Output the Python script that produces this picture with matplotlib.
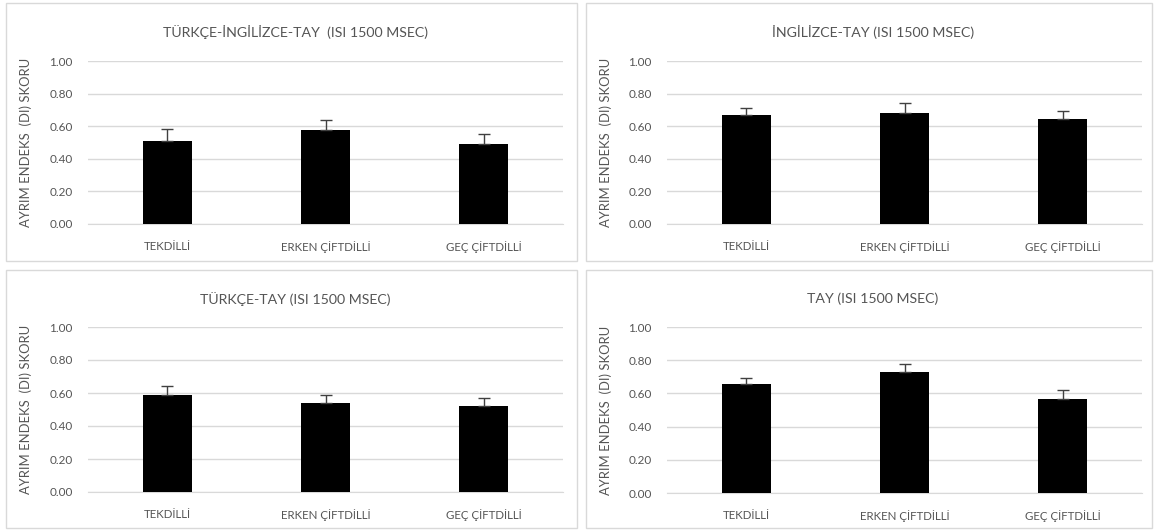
import numpy as np
import matplotlib
matplotlib.use("Agg")
import matplotlib.pyplot as plt
from matplotlib.patches import Rectangle

plt.rcParams['font.family'] = ['Lato', 'DejaVu Sans']

# data
groups = ["TEKDİLLİ", "ERKEN ÇİFTDİLLİ", "GEÇ ÇİFTDİLLİ"]
titles = ["TÜRKÇE-İNGİLİZCE-TAY  (ISI 1500 MSEC)",
          "İNGİLİZCE-TAY (ISI 1500 MSEC)",
          "TÜRKÇE-TAY (ISI 1500 MSEC)",
          "TAY (ISI 1500 MSEC)"]
means_tr_en_tay = [0.51, 0.575, 0.49]
errs_tr_en_tay = [0.07, 0.065, 0.06]
means_en_tay = [0.67, 0.68, 0.645]
errs_en_tay = [0.04, 0.06, 0.05]
means_tr_tay = [0.59, 0.54, 0.52]
errs_tr_tay = [0.055, 0.045, 0.05]
means_tay = [0.655, 0.73, 0.565]
errs_tay = [0.035, 0.05, 0.055]
yticks = [0.0, 0.2, 0.4, 0.6, 0.8, 1.0]
ylabel = "AYRIM ENDEKS  (DI) SKORU"

W, H = 1156, 531
fig = plt.figure(figsize=(W / 100, H / 100), dpi=100)
fig.patch.set_facecolor("white")

txt = "#555555"
grid = "#d9d9d9"

# panel boxes and plot areas in pixels: (box l, t, r, b), (plot l, t, r, b)
panels = [
    ((6, 3, 577, 261), (88, 61, 563, 224)),
    ((586, 3, 1152, 261), (667, 61, 1142, 224)),
    ((6, 270, 577, 528), (88, 327, 563, 492)),
    ((586, 270, 1152, 528), (667, 327, 1142, 493)),
]
data = [(means_tr_en_tay, errs_tr_en_tay), (means_en_tay, errs_en_tay),
        (means_tr_tay, errs_tr_tay), (means_tay, errs_tay)]

for (box, pl), title, (m, e) in zip(panels, titles, data):
    bl, bt, br, bb = box
    fig.patches.append(Rectangle((bl / W, 1 - bb / H), (br - bl) / W, (bb - bt) / H,
                                 transform=fig.transFigure, fill=False,
                                 edgecolor=grid, linewidth=1))
    l, t, r, b = pl
    ax = fig.add_axes([l / W, 1 - b / H, (r - l) / W, (b - t) / H])
    x = np.arange(len(groups))
    ax.bar(x, m, width=0.31, color="black", zorder=3)
    ax.errorbar(x, m, yerr=[np.zeros(len(e)), e], fmt="none", ecolor="#404040",
                elinewidth=1, capsize=4, capthick=1, zorder=4)
    ax.set_xlim(-0.5, len(groups) - 0.5)
    ax.set_ylim(0, 1.0)
    ax.set_yticks(yticks)
    ax.set_yticklabels([f"{v:.2f}" for v in yticks], color=txt, fontsize=8.5)
    ax.set_xticks(x)
    ax.set_xticklabels(groups, color=txt, fontsize=8.3)
    ax.tick_params(length=0, axis="x", pad=12)
    ax.tick_params(length=0, axis="y", pad=11)
    ax.yaxis.grid(True, color=grid, linewidth=1, zorder=0)
    ax.set_axisbelow(True)
    for s in ["top", "right", "left"]:
        ax.spines[s].set_visible(False)
    ax.spines["bottom"].set_color(grid)
    ax.set_ylabel(ylabel, color=txt, fontsize=9.4)
    ax.yaxis.set_label_coords((bl + 26 - l) / (r - l), 0.5)
    fig.text(((bl + br) / 2 + 4) / W, 1 - (bt + 29) / H, title, color=txt,
             fontsize=10.2, ha="center", va="center")

fig.savefig("out.png", dpi=100)
